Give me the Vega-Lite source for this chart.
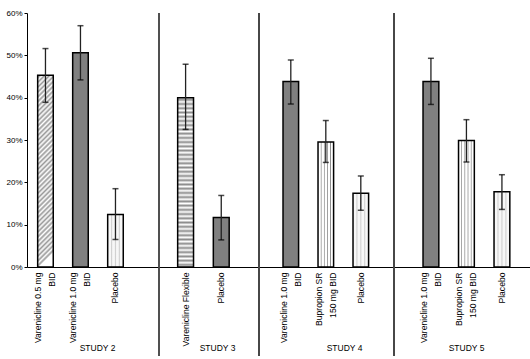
{
  "$schema": "https://vega.github.io/schema/vega-lite/v6.json",
  "padding": {"top": 9, "left": 5, "right": 1, "bottom": 0},
  "background": "white",
  "spacing": 0,
  "bounds": "flush",
  "data": {"values": [
    {"study": "STUDY 2", "treatment": "Varenicline 0.5 mg BID", "pct": 45.3, "lo": 38.9, "hi": 51.6},
    {"study": "STUDY 2", "treatment": "Varenicline 1.0 mg BID", "pct": 50.6, "lo": 44.2, "hi": 57.0},
    {"study": "STUDY 2", "treatment": "Placebo", "pct": 12.4, "lo": 6.5, "hi": 18.5},
    {"study": "STUDY 3", "treatment": "Varenicline Flexible", "pct": 40.0, "lo": 32.5, "hi": 47.9},
    {"study": "STUDY 3", "treatment": "Placebo", "pct": 11.7, "lo": 6.4, "hi": 16.9},
    {"study": "STUDY 4", "treatment": "Varenicline 1.0 mg BID", "pct": 43.8, "lo": 38.5, "hi": 48.9},
    {"study": "STUDY 4", "treatment": "Bupropion SR 150 mg BID", "pct": 29.5, "lo": 24.7, "hi": 34.6},
    {"study": "STUDY 4", "treatment": "Placebo", "pct": 17.4, "lo": 13.4, "hi": 21.5},
    {"study": "STUDY 5", "treatment": "Varenicline 1.0 mg BID", "pct": 43.8, "lo": 38.4, "hi": 49.3},
    {"study": "STUDY 5", "treatment": "Bupropion SR 150 mg BID", "pct": 29.9, "lo": 24.8, "hi": 34.8},
    {"study": "STUDY 5", "treatment": "Placebo", "pct": 17.8, "lo": 13.6, "hi": 21.8}
  ]},
  "config": {
    "view": {"stroke": null},
    "font": "Liberation Sans",
    "axis": {"labelFont": "Liberation Sans", "labelFontSize": 8, "labelColor": "black", "titleFont": "Liberation Sans", "titleFontSize": 8.5, "titleFontWeight": "normal", "titleColor": "black", "domainColor": "black", "domainWidth": 1, "tickColor": "black", "grid": false},
    "axisX": {"labelAngle": -90, "ticks": false, "labelPadding": 5, "labelFontSize": 8.6, "titleY": 76, "titleBaseline": "top", "labelLineHeight": 14},
    "axisY": {"tickSize": 3, "labelPadding": 2}
  },
  "resolve": {"scale": {"x": "independent"}},
  "hconcat": [
    {
      "width": 132, "height": 254,
      "transform": [{"filter": "datum.study === 'STUDY 2'"}],
      "encoding": {
        "x": {"field": "treatment", "type": "nominal", "sort": null,
          "scale": {"paddingInner": 0.555, "paddingOuter": 0.663, "align": 0.23},
          "axis": {"title": "STUDY 2", "titleX": 70,
            "labelOffset": {"condition": {"test": "indexof(datum.value, ' BID') >= 0", "value": -7}, "value": 0},
            "labelExpr": "datum.value == 'Varenicline 0.5 mg BID' ? ['Varenicline 0.5 mg', 'BID'] : datum.value == 'Varenicline 1.0 mg BID' ? ['Varenicline 1.0 mg', 'BID'] : datum.value == 'Bupropion SR 150 mg BID' ? ['Bupropion SR', '150 mg BID'] : datum.value"}}
      },
      "layer": [
        {
          "mark": {"type": "bar", "stroke": "black", "strokeWidth": 1.5},
          "encoding": {
            "y": {"field": "pct", "type": "quantitative", "title": null, "scale": {"domain": [0, 60], "nice": false},
              "axis": {"values": [0, 10, 20, 30, 40, 50, 60], "labelExpr": "datum.value + '%'"}},
            "fill": {
              "condition": [
                {"test": "datum.treatment === 'Varenicline 0.5 mg BID'", "value": {"gradient": "linear", "x1": 0, "y1": 0, "x2": 0.081, "y2": 1, "stops": [
                  {"offset": 0, "color": "#ffffff"}, {"offset": 0.0125, "color": "#999999"}, {"offset": 0.025, "color": "#ffffff"}, {"offset": 0.0375, "color": "#999999"}, {"offset": 0.05, "color": "#ffffff"}, {"offset": 0.0625, "color": "#999999"}, {"offset": 0.075, "color": "#ffffff"}, {"offset": 0.0875, "color": "#999999"},
                  {"offset": 0.1, "color": "#ffffff"}, {"offset": 0.1125, "color": "#999999"}, {"offset": 0.125, "color": "#ffffff"}, {"offset": 0.1375, "color": "#999999"}, {"offset": 0.15, "color": "#ffffff"}, {"offset": 0.1625, "color": "#999999"}, {"offset": 0.175, "color": "#ffffff"}, {"offset": 0.1875, "color": "#999999"},
                  {"offset": 0.2, "color": "#ffffff"}, {"offset": 0.2125, "color": "#999999"}, {"offset": 0.225, "color": "#ffffff"}, {"offset": 0.2375, "color": "#999999"}, {"offset": 0.25, "color": "#ffffff"}, {"offset": 0.2625, "color": "#999999"}, {"offset": 0.275, "color": "#ffffff"}, {"offset": 0.2875, "color": "#999999"},
                  {"offset": 0.3, "color": "#ffffff"}, {"offset": 0.3125, "color": "#999999"}, {"offset": 0.325, "color": "#ffffff"}, {"offset": 0.3375, "color": "#999999"}, {"offset": 0.35, "color": "#ffffff"}, {"offset": 0.3625, "color": "#999999"}, {"offset": 0.375, "color": "#ffffff"}, {"offset": 0.3875, "color": "#999999"},
                  {"offset": 0.4, "color": "#ffffff"}, {"offset": 0.4125, "color": "#999999"}, {"offset": 0.425, "color": "#ffffff"}, {"offset": 0.4375, "color": "#999999"}, {"offset": 0.45, "color": "#ffffff"}, {"offset": 0.4625, "color": "#999999"}, {"offset": 0.475, "color": "#ffffff"}, {"offset": 0.4875, "color": "#999999"},
                  {"offset": 0.5, "color": "#ffffff"}, {"offset": 0.5125, "color": "#999999"}, {"offset": 0.525, "color": "#ffffff"}, {"offset": 0.5375, "color": "#999999"}, {"offset": 0.55, "color": "#ffffff"}, {"offset": 0.5625, "color": "#999999"}, {"offset": 0.575, "color": "#ffffff"}, {"offset": 0.5875, "color": "#999999"},
                  {"offset": 0.6, "color": "#ffffff"}, {"offset": 0.6125, "color": "#999999"}, {"offset": 0.625, "color": "#ffffff"}, {"offset": 0.6375, "color": "#999999"}, {"offset": 0.65, "color": "#ffffff"}, {"offset": 0.6625, "color": "#999999"}, {"offset": 0.675, "color": "#ffffff"}, {"offset": 0.6875, "color": "#999999"},
                  {"offset": 0.7, "color": "#ffffff"}, {"offset": 0.7125, "color": "#999999"}, {"offset": 0.725, "color": "#ffffff"}, {"offset": 0.7375, "color": "#999999"}, {"offset": 0.75, "color": "#ffffff"}, {"offset": 0.7625, "color": "#999999"}, {"offset": 0.775, "color": "#ffffff"}, {"offset": 0.7875, "color": "#999999"},
                  {"offset": 0.8, "color": "#ffffff"}, {"offset": 0.8125, "color": "#999999"}, {"offset": 0.825, "color": "#ffffff"}, {"offset": 0.8375, "color": "#999999"}, {"offset": 0.85, "color": "#ffffff"}, {"offset": 0.8625, "color": "#999999"}, {"offset": 0.875, "color": "#ffffff"}, {"offset": 0.8875, "color": "#999999"},
                  {"offset": 0.9, "color": "#ffffff"}, {"offset": 0.9125, "color": "#999999"}, {"offset": 0.925, "color": "#ffffff"}, {"offset": 0.9375, "color": "#999999"}, {"offset": 0.95, "color": "#ffffff"}, {"offset": 0.9625, "color": "#999999"}, {"offset": 0.975, "color": "#ffffff"}, {"offset": 0.9875, "color": "#999999"},
                  {"offset": 1, "color": "#ffffff"}]}},
                {"test": "datum.treatment === 'Placebo'", "value": {"gradient": "linear", "x1": 0, "y1": 0, "x2": 1, "y2": 0, "stops": [
                  {"offset": 0, "color": "#f7f7f7"}, {"offset": 0.18, "color": "#f7f7f7"}, {"offset": 0.25, "color": "#cfcfcf"}, {"offset": 0.32, "color": "#f7f7f7"}, {"offset": 0.43, "color": "#f7f7f7"}, {"offset": 0.5, "color": "#cfcfcf"}, {"offset": 0.57, "color": "#f7f7f7"}, {"offset": 0.68, "color": "#f7f7f7"}, {"offset": 0.75, "color": "#cfcfcf"}, {"offset": 0.82, "color": "#f7f7f7"}, {"offset": 1, "color": "#f7f7f7"}]}}
              ],
              "value": "#808080"
            }
          }
        },
        {"mark": {"type": "rule", "color": "#222222", "strokeWidth": 1.3}, "encoding": {"y": {"field": "lo", "type": "quantitative", "title": null}, "y2": {"field": "hi"}}},
        {"mark": {"type": "tick", "orient": "horizontal", "size": 6, "thickness": 1.5, "color": "black"}, "encoding": {"y": {"field": "lo", "type": "quantitative", "title": null}}},
        {"mark": {"type": "tick", "orient": "horizontal", "size": 6, "thickness": 1.5, "color": "black"}, "encoding": {"y": {"field": "hi", "type": "quantitative", "title": null}}}
      ]
    },
    {
      "width": 100, "height": 254,
      "transform": [{"filter": "datum.study === 'STUDY 3'"}],
      "encoding": {
        "x": {"field": "treatment", "type": "nominal", "sort": null,
          "scale": {"paddingInner": 0.555, "paddingOuter": 0.68, "align": 0.385},
          "axis": {"title": "STUDY 3", "titleX": 58, "labelExpr": "datum.value"}}
      },
      "layer": [
        {
          "mark": {"type": "bar", "stroke": "black", "strokeWidth": 1.5},
          "encoding": {
            "y": {"field": "pct", "type": "quantitative", "title": null, "scale": {"domain": [0, 60], "nice": false}, "axis": null},
            "fill": {
              "condition": [
                {"test": "datum.treatment === 'Varenicline Flexible'", "value": {"gradient": "linear", "x1": 0, "y1": 0, "x2": 0, "y2": 1, "stops": [
                  {"offset": 0, "color": "#ffffff"}, {"offset": 0.0125, "color": "#8c8c8c"}, {"offset": 0.025, "color": "#ffffff"}, {"offset": 0.0375, "color": "#8c8c8c"}, {"offset": 0.05, "color": "#ffffff"}, {"offset": 0.0625, "color": "#8c8c8c"}, {"offset": 0.075, "color": "#ffffff"}, {"offset": 0.0875, "color": "#8c8c8c"},
                  {"offset": 0.1, "color": "#ffffff"}, {"offset": 0.1125, "color": "#8c8c8c"}, {"offset": 0.125, "color": "#ffffff"}, {"offset": 0.1375, "color": "#8c8c8c"}, {"offset": 0.15, "color": "#ffffff"}, {"offset": 0.1625, "color": "#8c8c8c"}, {"offset": 0.175, "color": "#ffffff"}, {"offset": 0.1875, "color": "#8c8c8c"},
                  {"offset": 0.2, "color": "#ffffff"}, {"offset": 0.2125, "color": "#8c8c8c"}, {"offset": 0.225, "color": "#ffffff"}, {"offset": 0.2375, "color": "#8c8c8c"}, {"offset": 0.25, "color": "#ffffff"}, {"offset": 0.2625, "color": "#8c8c8c"}, {"offset": 0.275, "color": "#ffffff"}, {"offset": 0.2875, "color": "#8c8c8c"},
                  {"offset": 0.3, "color": "#ffffff"}, {"offset": 0.3125, "color": "#8c8c8c"}, {"offset": 0.325, "color": "#ffffff"}, {"offset": 0.3375, "color": "#8c8c8c"}, {"offset": 0.35, "color": "#ffffff"}, {"offset": 0.3625, "color": "#8c8c8c"}, {"offset": 0.375, "color": "#ffffff"}, {"offset": 0.3875, "color": "#8c8c8c"},
                  {"offset": 0.4, "color": "#ffffff"}, {"offset": 0.4125, "color": "#8c8c8c"}, {"offset": 0.425, "color": "#ffffff"}, {"offset": 0.4375, "color": "#8c8c8c"}, {"offset": 0.45, "color": "#ffffff"}, {"offset": 0.4625, "color": "#8c8c8c"}, {"offset": 0.475, "color": "#ffffff"}, {"offset": 0.4875, "color": "#8c8c8c"},
                  {"offset": 0.5, "color": "#ffffff"}, {"offset": 0.5125, "color": "#8c8c8c"}, {"offset": 0.525, "color": "#ffffff"}, {"offset": 0.5375, "color": "#8c8c8c"}, {"offset": 0.55, "color": "#ffffff"}, {"offset": 0.5625, "color": "#8c8c8c"}, {"offset": 0.575, "color": "#ffffff"}, {"offset": 0.5875, "color": "#8c8c8c"},
                  {"offset": 0.6, "color": "#ffffff"}, {"offset": 0.6125, "color": "#8c8c8c"}, {"offset": 0.625, "color": "#ffffff"}, {"offset": 0.6375, "color": "#8c8c8c"}, {"offset": 0.65, "color": "#ffffff"}, {"offset": 0.6625, "color": "#8c8c8c"}, {"offset": 0.675, "color": "#ffffff"}, {"offset": 0.6875, "color": "#8c8c8c"},
                  {"offset": 0.7, "color": "#ffffff"}, {"offset": 0.7125, "color": "#8c8c8c"}, {"offset": 0.725, "color": "#ffffff"}, {"offset": 0.7375, "color": "#8c8c8c"}, {"offset": 0.75, "color": "#ffffff"}, {"offset": 0.7625, "color": "#8c8c8c"}, {"offset": 0.775, "color": "#ffffff"}, {"offset": 0.7875, "color": "#8c8c8c"},
                  {"offset": 0.8, "color": "#ffffff"}, {"offset": 0.8125, "color": "#8c8c8c"}, {"offset": 0.825, "color": "#ffffff"}, {"offset": 0.8375, "color": "#8c8c8c"}, {"offset": 0.85, "color": "#ffffff"}, {"offset": 0.8625, "color": "#8c8c8c"}, {"offset": 0.875, "color": "#ffffff"}, {"offset": 0.8875, "color": "#8c8c8c"},
                  {"offset": 0.9, "color": "#ffffff"}, {"offset": 0.9125, "color": "#8c8c8c"}, {"offset": 0.925, "color": "#ffffff"}, {"offset": 0.9375, "color": "#8c8c8c"}, {"offset": 0.95, "color": "#ffffff"}, {"offset": 0.9625, "color": "#8c8c8c"}, {"offset": 0.975, "color": "#ffffff"}, {"offset": 0.9875, "color": "#8c8c8c"},
                  {"offset": 1, "color": "#ffffff"}]}}
              ],
              "value": "#808080"
            }
          }
        },
        {"mark": {"type": "rule", "color": "#222222", "strokeWidth": 1.3}, "encoding": {"y": {"field": "lo", "type": "quantitative", "title": null, "axis": null}, "y2": {"field": "hi"}}},
        {"mark": {"type": "tick", "orient": "horizontal", "size": 6, "thickness": 1.5, "color": "black"}, "encoding": {"y": {"field": "lo", "type": "quantitative", "title": null, "axis": null}}},
        {"mark": {"type": "tick", "orient": "horizontal", "size": 6, "thickness": 1.5, "color": "black"}, "encoding": {"y": {"field": "hi", "type": "quantitative", "title": null, "axis": null}}},
        {"mark": {"type": "rule", "color": "#444444", "strokeWidth": 1.5}, "encoding": {"x": {"value": 0}, "y": {"datum": 60, "type": "quantitative", "axis": null}, "y2": {"datum": -21}}}
      ]
    },
    {
      "width": 135, "height": 254,
      "transform": [{"filter": "datum.study === 'STUDY 4'"}],
      "encoding": {
        "x": {"field": "treatment", "type": "nominal", "sort": null,
          "scale": {"paddingInner": 0.555, "paddingOuter": 0.706, "align": 0.486},
          "axis": {"title": "STUDY 4", "titleX": 85,
            "labelOffset": {"condition": {"test": "indexof(datum.value, ' BID') >= 0", "value": -7}, "value": 0},
            "labelExpr": "datum.value == 'Varenicline 1.0 mg BID' ? ['Varenicline 1.0 mg', 'BID'] : datum.value == 'Bupropion SR 150 mg BID' ? ['Bupropion SR', '150 mg BID'] : datum.value"}}
      },
      "layer": [
        {
          "mark": {"type": "bar", "stroke": "black", "strokeWidth": 1.5},
          "encoding": {
            "y": {"field": "pct", "type": "quantitative", "title": null, "scale": {"domain": [0, 60], "nice": false}, "axis": null},
            "fill": {
              "condition": [
                {"test": "datum.treatment === 'Bupropion SR 150 mg BID'", "value": {"gradient": "linear", "x1": 0, "y1": 0, "x2": 1, "y2": 0, "stops": [
                  {"offset": 0, "color": "#ffffff"}, {"offset": 0.15, "color": "#ffffff"}, {"offset": 0.2, "color": "#8c8c8c"}, {"offset": 0.25, "color": "#ffffff"}, {"offset": 0.35, "color": "#ffffff"}, {"offset": 0.4, "color": "#8c8c8c"}, {"offset": 0.45, "color": "#ffffff"}, {"offset": 0.55, "color": "#ffffff"}, {"offset": 0.6, "color": "#8c8c8c"}, {"offset": 0.65, "color": "#ffffff"}, {"offset": 0.75, "color": "#ffffff"}, {"offset": 0.8, "color": "#8c8c8c"}, {"offset": 0.85, "color": "#ffffff"}, {"offset": 1, "color": "#ffffff"}]}},
                {"test": "datum.treatment === 'Placebo'", "value": {"gradient": "linear", "x1": 0, "y1": 0, "x2": 1, "y2": 0, "stops": [
                  {"offset": 0, "color": "#f7f7f7"}, {"offset": 0.18, "color": "#f7f7f7"}, {"offset": 0.25, "color": "#cfcfcf"}, {"offset": 0.32, "color": "#f7f7f7"}, {"offset": 0.43, "color": "#f7f7f7"}, {"offset": 0.5, "color": "#cfcfcf"}, {"offset": 0.57, "color": "#f7f7f7"}, {"offset": 0.68, "color": "#f7f7f7"}, {"offset": 0.75, "color": "#cfcfcf"}, {"offset": 0.82, "color": "#f7f7f7"}, {"offset": 1, "color": "#f7f7f7"}]}}
              ],
              "value": "#808080"
            }
          }
        },
        {"mark": {"type": "rule", "color": "#222222", "strokeWidth": 1.3}, "encoding": {"y": {"field": "lo", "type": "quantitative", "title": null, "axis": null}, "y2": {"field": "hi"}}},
        {"mark": {"type": "tick", "orient": "horizontal", "size": 6, "thickness": 1.5, "color": "black"}, "encoding": {"y": {"field": "lo", "type": "quantitative", "title": null, "axis": null}}},
        {"mark": {"type": "tick", "orient": "horizontal", "size": 6, "thickness": 1.5, "color": "black"}, "encoding": {"y": {"field": "hi", "type": "quantitative", "title": null, "axis": null}}},
        {"mark": {"type": "rule", "color": "#444444", "strokeWidth": 1.5}, "encoding": {"x": {"value": 0}, "y": {"datum": 60, "type": "quantitative", "axis": null}, "y2": {"datum": -21}}}
      ]
    },
    {
      "width": 136, "height": 254,
      "transform": [{"filter": "datum.study === 'STUDY 5'"}],
      "encoding": {
        "x": {"field": "treatment", "type": "nominal", "sort": null,
          "scale": {"paddingInner": 0.555, "paddingOuter": 0.693, "align": 0.59},
          "axis": {"title": "STUDY 5", "titleX": 72,
            "labelOffset": {"condition": {"test": "indexof(datum.value, ' BID') >= 0", "value": -7}, "value": 0},
            "labelExpr": "datum.value == 'Varenicline 1.0 mg BID' ? ['Varenicline 1.0 mg', 'BID'] : datum.value == 'Bupropion SR 150 mg BID' ? ['Bupropion SR', '150 mg BID'] : datum.value"}}
      },
      "layer": [
        {
          "mark": {"type": "bar", "stroke": "black", "strokeWidth": 1.5},
          "encoding": {
            "y": {"field": "pct", "type": "quantitative", "title": null, "scale": {"domain": [0, 60], "nice": false}, "axis": null},
            "fill": {
              "condition": [
                {"test": "datum.treatment === 'Bupropion SR 150 mg BID'", "value": {"gradient": "linear", "x1": 0, "y1": 0, "x2": 1, "y2": 0, "stops": [
                  {"offset": 0, "color": "#ffffff"}, {"offset": 0.15, "color": "#ffffff"}, {"offset": 0.2, "color": "#8c8c8c"}, {"offset": 0.25, "color": "#ffffff"}, {"offset": 0.35, "color": "#ffffff"}, {"offset": 0.4, "color": "#8c8c8c"}, {"offset": 0.45, "color": "#ffffff"}, {"offset": 0.55, "color": "#ffffff"}, {"offset": 0.6, "color": "#8c8c8c"}, {"offset": 0.65, "color": "#ffffff"}, {"offset": 0.75, "color": "#ffffff"}, {"offset": 0.8, "color": "#8c8c8c"}, {"offset": 0.85, "color": "#ffffff"}, {"offset": 1, "color": "#ffffff"}]}},
                {"test": "datum.treatment === 'Placebo'", "value": {"gradient": "linear", "x1": 0, "y1": 0, "x2": 1, "y2": 0, "stops": [
                  {"offset": 0, "color": "#f7f7f7"}, {"offset": 0.18, "color": "#f7f7f7"}, {"offset": 0.25, "color": "#cfcfcf"}, {"offset": 0.32, "color": "#f7f7f7"}, {"offset": 0.43, "color": "#f7f7f7"}, {"offset": 0.5, "color": "#cfcfcf"}, {"offset": 0.57, "color": "#f7f7f7"}, {"offset": 0.68, "color": "#f7f7f7"}, {"offset": 0.75, "color": "#cfcfcf"}, {"offset": 0.82, "color": "#f7f7f7"}, {"offset": 1, "color": "#f7f7f7"}]}}
              ],
              "value": "#808080"
            }
          }
        },
        {"mark": {"type": "rule", "color": "#222222", "strokeWidth": 1.3}, "encoding": {"y": {"field": "lo", "type": "quantitative", "title": null, "axis": null}, "y2": {"field": "hi"}}},
        {"mark": {"type": "tick", "orient": "horizontal", "size": 6, "thickness": 1.5, "color": "black"}, "encoding": {"y": {"field": "lo", "type": "quantitative", "title": null, "axis": null}}},
        {"mark": {"type": "tick", "orient": "horizontal", "size": 6, "thickness": 1.5, "color": "black"}, "encoding": {"y": {"field": "hi", "type": "quantitative", "title": null, "axis": null}}},
        {"mark": {"type": "rule", "color": "#444444", "strokeWidth": 1.5}, "encoding": {"x": {"value": 0}, "y": {"datum": 60, "type": "quantitative", "axis": null}, "y2": {"datum": -21}}}
      ]
    }
  ]
}
